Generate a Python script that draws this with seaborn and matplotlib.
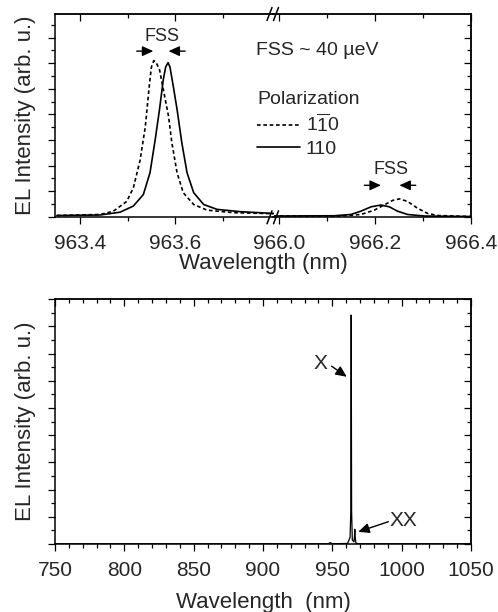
import numpy as np
import pandas as pd
import seaborn as sns
import matplotlib.pyplot as plt
from matplotlib.lines import Line2D
from matplotlib.ticker import MultipleLocator, NullFormatter, FixedLocator

# ---- data ----
# top panel, left part (X line region)
dash_l_x = [963.351, 963.442, 963.470, 963.498, 963.512, 963.526, 963.537, 963.546, 963.550, 963.555, 963.560,
            963.567, 963.575, 963.586, 963.593, 963.604, 963.617, 963.639, 963.667, 963.723, 963.807]
dash_l_y = [0.05, 0.09, 0.22, 0.60, 1.13, 2.20, 3.50, 5.20, 5.85, 6.10, 6.02,
            5.75, 4.97, 3.93, 2.89, 1.72, 0.94, 0.48, 0.26, 0.16, 0.12]
solid_l_x = [963.351, 963.442, 963.484, 963.512, 963.533, 963.547, 963.558, 963.567, 963.575, 963.580,
             963.585, 963.589, 963.596, 963.604, 963.614, 963.625, 963.639, 963.660, 963.688, 963.737, 963.807]
solid_l_y = [0.05, 0.07, 0.18, 0.42, 0.87, 1.72, 3.02, 4.19, 5.36, 5.85,
             6.02, 5.85, 5.10, 4.19, 2.89, 1.72, 0.94, 0.48, 0.29, 0.20, 0.13]
# top panel, right part (XX line region)
dash_r_x = [965.989, 966.129, 966.171, 966.199, 966.219, 966.237, 966.251, 966.268, 966.289, 966.310, 966.331, 966.400]
dash_r_y = [0.03, 0.03, 0.09, 0.26, 0.46, 0.64, 0.70, 0.60, 0.33, 0.13, 0.05, 0.01]
solid_r_x = [965.989, 966.115, 966.150, 966.171, 966.192, 966.2125, 966.230, 966.247, 966.268, 966.303, 966.400]
solid_r_y = [0.03, 0.04, 0.09, 0.22, 0.39, 0.46, 0.39, 0.22, 0.09, 0.03, 0.01]

# bottom panel, full spectrum
full_x = [750, 940, 947, 948.5, 950, 961, 962.8, 963.3, 963.6, 963.9, 964.4, 965.6, 966.0, 966.2, 966.4, 967, 969, 1050]
full_y = [0.01, 0.01, 0.01, 0.05, 0.01, 0.02, 0.25, 1.2, 8.42, 1.2, 0.15, 0.08, 0.3, 0.54, 0.3, 0.03, 0.01, 0.01]

pol_labels = [r"$\mathregular{1\overline{1}0}$", "110"]

top = pd.concat([
    pd.DataFrame({"wl": dash_l_x, "I": dash_l_y, "pol": "1-10", "part": "l"}),
    pd.DataFrame({"wl": solid_l_x, "I": solid_l_y, "pol": "110", "part": "l"}),
    pd.DataFrame({"wl": dash_r_x, "I": dash_r_y, "pol": "1-10", "part": "r"}),
    pd.DataFrame({"wl": solid_r_x, "I": solid_r_y, "pol": "110", "part": "r"}),
])

sns.set_theme(style="ticks")
plt.rcParams["font.family"] = ["Liberation Sans", "DejaVu Sans"]
plt.rcParams["mathtext.fontset"] = "custom"
plt.rcParams["mathtext.rm"] = "Liberation Sans"
plt.rcParams["axes.linewidth"] = 1.1

W, H = 498, 612
fig = plt.figure(figsize=(W / 100, H / 100), dpi=100)


def box(x0, y0, x1, y1):
    # pixel box (top-left origin) -> figure fraction rect
    return [x0 / W, 1 - y1 / H, (x1 - x0) / W, (y1 - y0) / H]


ax_l = fig.add_axes(box(55, 14, 273.5, 217.3))
ax_r = fig.add_axes(box(273.5, 14, 471, 217.3), sharey=ax_l)
ax_b = fig.add_axes(box(55, 299.3, 471, 544))

dashes = {"1-10": (2.2, 1.6), "110": ""}
for ax, part in [(ax_l, "l"), (ax_r, "r")]:
    sns.lineplot(data=top[top["part"] == part], x="wl", y="I", style="pol", dashes=dashes,
                 color="black", lw=1.2, estimator=None, sort=False, legend=False, ax=ax)

sns.lineplot(x=full_x, y=full_y, color="black", lw=0.9, estimator=None, sort=False, ax=ax_b)


def ticks(ax, xmaj, xmin, ymaj, ymin, left=True, right=True):
    ax.xaxis.set_major_locator(xmaj)
    ax.xaxis.set_minor_locator(xmin)
    ax.yaxis.set_major_locator(MultipleLocator(ymaj))
    ax.yaxis.set_minor_locator(MultipleLocator(ymin))
    ax.yaxis.set_major_formatter(NullFormatter())
    ax.tick_params(which="major", direction="out", length=5, width=0.9, color="black",
                   labelsize=15, pad=7, left=left, bottom=True)
    ax.tick_params(which="minor", direction="out", length=3, width=0.9, color="black",
                   left=left, bottom=True)
    sx = ax.secondary_xaxis("top")
    sx.xaxis.set_major_locator(xmaj)
    sx.xaxis.set_minor_locator(xmin)
    sx.xaxis.set_major_formatter(NullFormatter())
    sx.tick_params(which="major", direction="in", length=5, width=0.9, color="black")
    sx.tick_params(which="minor", direction="in", length=3, width=0.9, color="black")
    if right:
        sy = ax.secondary_yaxis("right")
        sy.yaxis.set_major_locator(MultipleLocator(ymaj))
        sy.yaxis.set_minor_locator(MultipleLocator(ymin))
        sy.yaxis.set_major_formatter(NullFormatter())
        sy.tick_params(which="major", direction="in", length=5, width=0.9, color="black")
        sy.tick_params(which="minor", direction="in", length=3, width=0.9, color="black")
    for s in ax.spines.values():
        s.set_color("black")


ax_l.set_xlim(963.347, 963.807)
ax_r.set_xlim(965.989, 966.4)
ax_l.set_ylim(-0.02, 7.92)
ax_b.set_xlim(750, 1050)
ax_b.set_ylim(0, 9)

ticks(ax_l, FixedLocator([963.4, 963.6]), FixedLocator([963.5, 963.7]), 1, 0.5, right=False)
ticks(ax_r, FixedLocator([966.0, 966.2, 966.4]), FixedLocator([966.1, 966.3]), 1, 0.5, left=False)
ticks(ax_b, MultipleLocator(50), MultipleLocator(10), 1, 0.5)
ax_l.spines["right"].set_visible(False)
ax_r.spines["left"].set_visible(False)
ax_r.tick_params(axis="y", which="both", left=False)

for ax in (ax_l, ax_r, ax_b):
    ax.set_xlabel("")
    ax.set_ylabel("")
ax_l.set_ylabel("EL Intensity (arb. u.)", fontsize=16, labelpad=2)
ax_b.set_ylabel("EL Intensity (arb. u.)", fontsize=16, labelpad=2)
ax_b.set_xlabel("Wavelength  (nm)", fontsize=16, labelpad=9)
fig.text(263 / W, 1 - 263 / H, "Wavelength (nm)", fontsize=16, ha="center", va="center")

# break marks
for xb in (267.0, 273.5):
    for yb in (14, 217.3):
        fig.add_artist(Line2D([xb / W, (xb + 5) / W], [1 - (yb + 6.5) / H, 1 - (yb - 6.5) / H],
                              color="black", lw=1.1))

# annotations
arrow = dict(arrowstyle="-|>,head_length=0.55,head_width=0.25", color="black", lw=1.0,
             shrinkA=0, shrinkB=0)
ax_l.text(963.572, 7.05, "FSS", fontsize=13, ha="center", va="center")
ax_l.annotate("", xy=(963.554, 6.47), xytext=(963.519, 6.47), arrowprops=arrow)
ax_l.annotate("", xy=(963.586, 6.47), xytext=(963.621, 6.47), arrowprops=arrow)
ax_r.text(966.233, 1.85, "FSS", fontsize=13, ha="center", va="center")
ax_r.annotate("", xy=(966.2125, 1.23), xytext=(966.178, 1.23), arrowprops=arrow)
ax_r.annotate("", xy=(966.251, 1.23), xytext=(966.285, 1.23), arrowprops=arrow)

fig.text(256 / W, 1 - 50.5 / H, "FSS ~ 40 \u00b5eV", fontsize=14, ha="left", va="center")

handles = [Line2D([], [], color="black", lw=1.2, dashes=(2.2, 1.6)),
           Line2D([], [], color="black", lw=1.2)]
leg = fig.legend(handles, pol_labels, title="Polarization", loc="upper left",
                 bbox_to_anchor=(257 / W, 1 - 91 / H), frameon=False, fontsize=14,
                 title_fontsize=14, alignment="left", handlelength=2.2, handletextpad=0.3,
                 labelspacing=0.25, borderpad=0, borderaxespad=0)

ax_b.text(941.1, 6.64, "X", fontsize=15, ha="center", va="center")
ax_b.annotate("", xy=(960.4, 6.15), xytext=(949.5, 6.54), arrowprops=arrow)
ax_b.text(1001.2, 0.88, "XX", fontsize=15, ha="center", va="center")
ax_b.annotate("", xy=(968.7, 0.45), xytext=(990.4, 0.82), arrowprops=arrow)

fig.savefig("out.png", dpi=100)
